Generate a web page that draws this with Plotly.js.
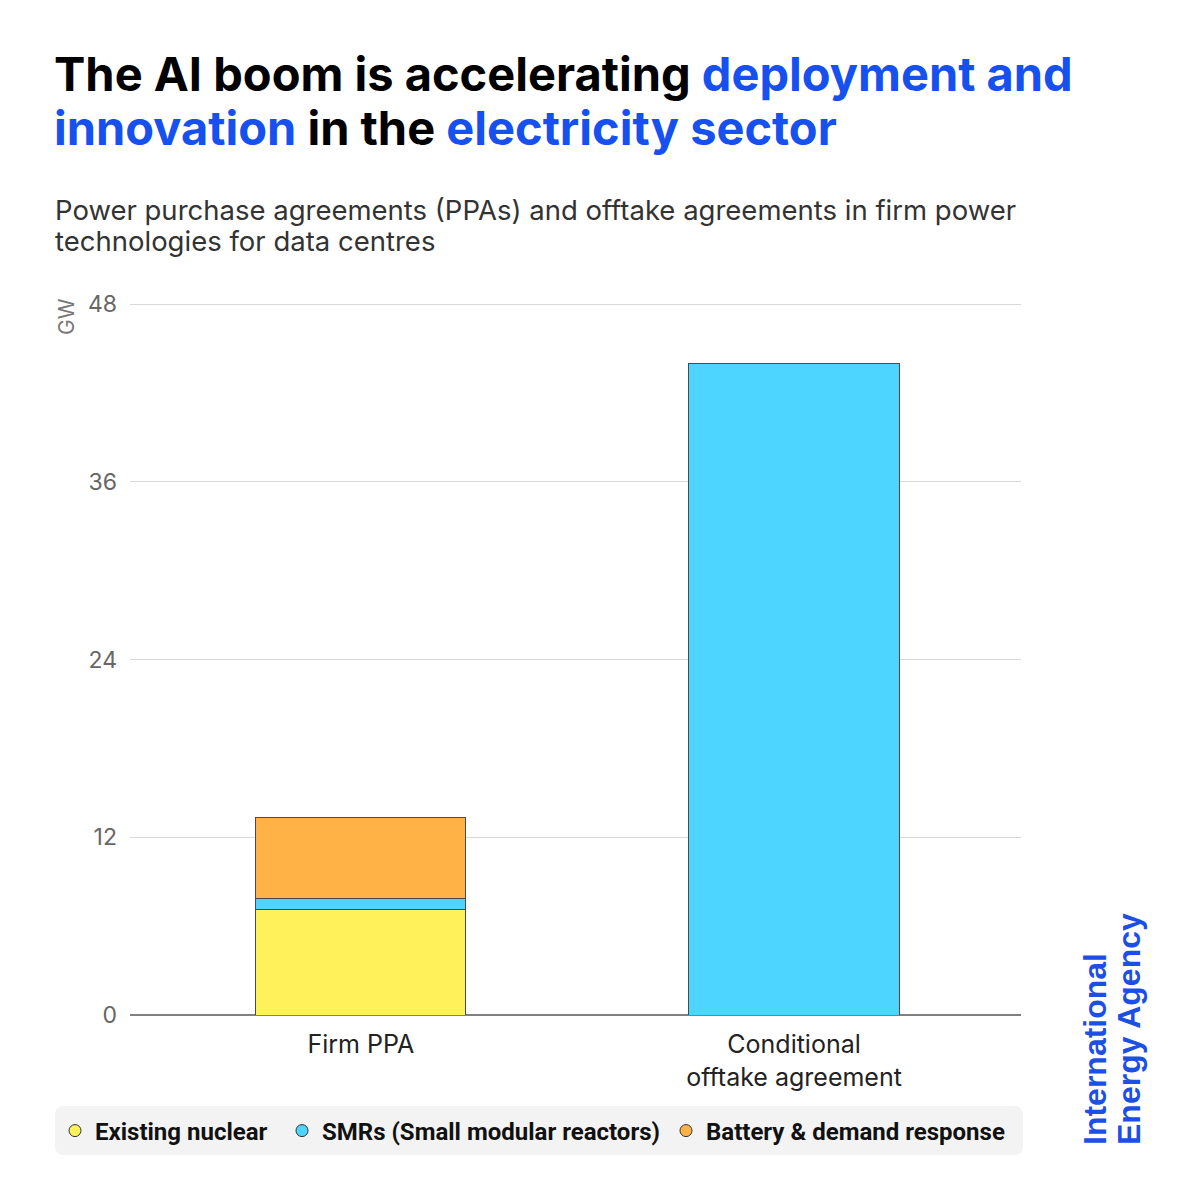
<!DOCTYPE html>
<html>
<head>
<meta charset="utf-8">
<script src="https://cdn.plot.ly/plotly-3.0.1.min.js"></script>
<style>
html,body{margin:0;padding:0;background:#fff;}
#chart{width:1200px;height:1200px;}
</style>
</head>
<body>
<div id="chart"></div>
<script>
// ---- data ----
const categories = ['Firm PPA', 'Conditional<br>offtake agreement'];
const seriesNames = ['Existing nuclear', 'SMRs (Small modular reactors)', 'Battery & demand response'];
const existingNuclear = [7.1, null];
const smrs = [0.75, 44];
const battery = [5.5, null];
const yTicks = [0, 12, 24, 36, 48];
const yTickLabels = ['0', '12', '24', '36', '48'];

// ---- layout helpers ----
const W = 1200, H = 1200;
const L = 130, R = 1021, B = 1015;
const PX_PER_GW = (1015 - 304) / 48;
const YMAX = 48.15;
const T = Math.round(B - YMAX * PX_PER_GW);
const px = x => (x - L) / (R - L);
const py = y => (B - y) / (B - T);

const colors = ['#FFF15A', '#4DD4FF', '#FFB347'];
const BLUE = '#1650EE';
const outline = {color: '#4a4a4a', width: 1};

const seriesValues = [existingNuclear, smrs, battery];
const traces = [];
seriesValues.forEach((vals, i) => {
  traces.push({
    type: 'bar', name: seriesNames[i], x: categories, y: vals,
    width: 0.485, marker: {color: colors[i], line: outline},
    showlegend: false, hoverinfo: 'skip'
  });
});
const legendIds = ['legend', 'legend2', 'legend3'];
seriesNames.forEach((n, i) => {
  traces.push({
    type: 'scatter', mode: 'markers', name: n, x: [null], y: [null],
    marker: {color: colors[i], size: 12, line: {color: '#333', width: 1}},
    legend: legendIds[i], showlegend: true
  });
});

const legendFont = {family: 'Roboto, Inter, sans-serif', size: 24, color: '#111', weight: 700};
function mkLegend(xpix) {
  return {
    orientation: 'h', x: px(xpix), y: py(1131), xanchor: 'left', yanchor: 'middle',
    bgcolor: 'rgba(0,0,0,0)', font: legendFont, itemwidth: 30, borderwidth: 0
  };
}

function roundedRectPath(x0, y0, x1, y1, r) {
  const X = v => px(v), Y = v => py(v);
  return 'M' + X(x0 + r) + ',' + Y(y0) +
    ' L' + X(x1 - r) + ',' + Y(y0) +
    ' Q' + X(x1) + ',' + Y(y0) + ' ' + X(x1) + ',' + Y(y0 + r) +
    ' L' + X(x1) + ',' + Y(y1 - r) +
    ' Q' + X(x1) + ',' + Y(y1) + ' ' + X(x1 - r) + ',' + Y(y1) +
    ' L' + X(x0 + r) + ',' + Y(y1) +
    ' Q' + X(x0) + ',' + Y(y1) + ' ' + X(x0) + ',' + Y(y1 - r) +
    ' L' + X(x0) + ',' + Y(y0 + r) +
    ' Q' + X(x0) + ',' + Y(y0) + ' ' + X(x0 + r) + ',' + Y(y0) + ' Z';
}

const layout = {
  width: W, height: H,
  margin: {l: L, r: W - R, t: T, b: H - B, pad: 0},
  paper_bgcolor: '#ffffff', plot_bgcolor: '#ffffff',
  barmode: 'stack',
  showlegend: true,
  legend: mkLegend(55),
  legend2: mkLegend(282),
  legend3: mkLegend(666),
  xaxis: {
    type: 'category', range: [-0.533, 1.524], fixedrange: true,
    showgrid: false, zeroline: false, showline: false, ticks: '',
    tickfont: {family: 'Inter, Roboto, sans-serif', size: 25, color: '#222'},
    ticklabelstandoff: 12
  },
  yaxis: {
    range: [0, YMAX], tickvals: yTicks, ticktext: yTickLabels,
    showgrid: true, gridcolor: '#d9d9d9', gridwidth: 1,
    zeroline: true, zerolinecolor: '#808080', zerolinewidth: 1.5,
    showline: false, ticks: '', ticklabelstandoff: 12,
    tickfont: {family: 'Inter, Roboto, sans-serif', size: 23, color: '#666'}
  },
  shapes: [{
    type: 'path', xref: 'paper', yref: 'paper', layer: 'below',
    path: roundedRectPath(55, 1106, 1023, 1155, 9),
    fillcolor: '#f3f3f3', line: {width: 0}
  }],
  annotations: [
    {
      xref: 'paper', yref: 'paper', x: px(52), y: py(73), xanchor: 'left', yanchor: 'middle',
      showarrow: false, align: 'left',
      text: '<b>The AI boom is accelerating <span style="color:' + BLUE + '">deployment and</span></b>',
      font: {family: 'Inter, sans-serif', size: 47, color: '#000'}
    },
    {
      xref: 'paper', yref: 'paper', x: px(52), y: py(127), xanchor: 'left', yanchor: 'middle',
      showarrow: false, align: 'left',
      text: '<b><span style="color:' + BLUE + '">innovation</span> in the <span style="color:' + BLUE + '">electricity sector</span></b>',
      font: {family: 'Inter, sans-serif', size: 47, color: '#000'}
    },
    {
      xref: 'paper', yref: 'paper', x: px(53), y: py(210), xanchor: 'left', yanchor: 'middle',
      showarrow: false, align: 'left',
      text: 'Power purchase agreements (PPAs) and offtake agreements in firm power',
      font: {family: 'Inter, sans-serif', size: 27.5, color: '#333'}
    },
    {
      xref: 'paper', yref: 'paper', x: px(53), y: py(241), xanchor: 'left', yanchor: 'middle',
      showarrow: false, align: 'left',
      text: 'technologies for data centres',
      font: {family: 'Inter, sans-serif', size: 27.5, color: '#333'}
    },
    {
      xref: 'paper', yref: 'paper', x: px(66), y: py(317), xanchor: 'center', yanchor: 'middle',
      showarrow: false, textangle: -90, text: 'GW',
      font: {family: 'Inter, sans-serif', size: 21, color: '#777'}
    },
    {
      xref: 'paper', yref: 'paper', x: px(1095), y: py(1147), xanchor: 'center', yanchor: 'bottom',
      showarrow: false, textangle: -90, text: 'International',
      font: {family: 'Liberation Sans, Arial, sans-serif', size: 32, color: '#1B4FE6', weight: 700}
    },
    {
      xref: 'paper', yref: 'paper', x: px(1129), y: py(1147), xanchor: 'center', yanchor: 'bottom',
      showarrow: false, textangle: -90, text: 'Energy Agency',
      font: {family: 'Liberation Sans, Arial, sans-serif', size: 32, color: '#1B4FE6', weight: 700}
    }
  ]
};

Plotly.newPlot('chart', traces, layout, {displayModeBar: false, staticPlot: true});
</script>
</body>
</html>
